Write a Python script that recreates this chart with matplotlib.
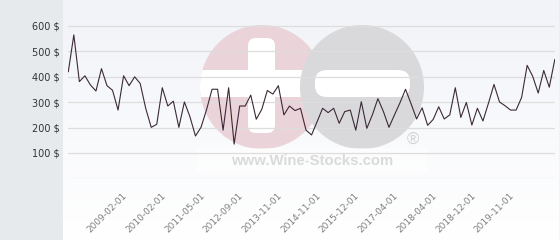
import numpy as np
import matplotlib
matplotlib.use("Agg")
import matplotlib.pyplot as plt
from matplotlib.patches import Circle, Rectangle, FancyBboxPatch
from matplotlib.transforms import ScaledTranslation

# ---- data ----
prices = [420, 565, 381, 404, 368, 344, 432, 365, 347, 269,
          404, 365, 400, 374, 276, 201, 213, 357, 285, 304,
          201, 301, 243, 167, 201, 270, 351, 351, 190, 357,
          135, 285, 285, 328, 233, 272, 346, 332, 365, 250,
          285, 267, 276, 190, 171, 223, 276, 259, 276, 217,
          263, 269, 190, 302, 197, 250, 314, 263, 201, 250,
          298, 351, 294, 234, 278, 209, 232, 282, 234, 250,
          357, 240, 299, 210, 276, 226, 296, 370, 301, 286,
          269, 269, 319, 445, 402, 336, 425, 359, 468]
tick_labels = ["2009-02-01", "2010-02-01", "2011-05-01", "2012-09-01",
               "2013-11-01", "2014-11-01", "2015-12-01", "2017-04-01",
               "2018-04-01", "2018-12-01", "2019-11-01"]
tick_index = [10 + 7 * k for k in range(len(tick_labels))]
y_ticks = [100, 200, 300, 400, 500, 600]

W, H = 560, 240
fig = plt.figure(figsize=(W / 100, H / 100), dpi=100)

# ---- background + watermark layer (pixel coords) ----
bg = fig.add_axes([0, 0, 1, 1], zorder=0)
bg.set_xlim(0, W)
bg.set_ylim(H, 0)
bg.axis("off")
bg.add_patch(Rectangle((0, 0), 63, H, color="#e6eaed", lw=0))
grad = np.linspace(0, 1, 256)[:, None]
top = np.array([0.945, 0.953, 0.972])
bot = np.array([1.0, 1.0, 1.0])
img = top[None, None, :] * (1 - grad[:, :, None]) + bot[None, None, :] * grad[:, :, None]
bg.imshow(img, extent=[63, W, H, 0], aspect="auto", zorder=0)
bg.plot([559.5, 559.5], [0, H], color="#d8d8d8", lw=1, zorder=1)

pink = Circle((262, 87), 62, color="#ebd4d9", lw=0, zorder=2)
bg.add_patch(pink)
band = Rectangle((195, 70), 115, 27, color="white", lw=0, zorder=3)
bg.add_patch(band)
band.set_clip_path(pink)
vbar = FancyBboxPatch((248, 38), 27, 95, boxstyle="round,pad=0,rounding_size=8",
                      color="white", lw=0, zorder=3)
bg.add_patch(vbar)
vbar.set_clip_path(pink)
bg.add_patch(Circle((362, 87), 62, color="#d9d9db", lw=0, zorder=4))
bg.add_patch(FancyBboxPatch((315, 70), 95, 27, boxstyle="round,pad=0,rounding_size=12",
                            color="white", lw=0, zorder=5))
bg.add_patch(Rectangle((197, 148), 230, 25, color="white", alpha=0.55, lw=0, zorder=5))
bg.text(312, 161, "www.Wine-Stocks.com", ha="center", va="center",
        fontsize=10.7, fontweight="bold", family="Liberation Sans",
        color="#dadada", zorder=6)
bg.text(413, 140, "\u00ae", ha="center", va="center", fontsize=12,
        family="Liberation Sans", color="#d0d0d0", zorder=6)

# ---- main chart ----
ymax = 625
ax = fig.add_axes([68.3 / W, (H - 178.4) / H, 486.5 / W, ymax * 0.254 / H], zorder=1)
ax.set_facecolor("none")
x = np.arange(len(prices))
ax.plot(x, prices, color="#3b2a36", lw=0.8, zorder=3)
ax.set_xlim(0, len(prices) - 1)
ax.set_ylim(0, ymax)
for v in [0] + y_ticks:
    ax.axhline(v, color="#dddddd", lw=0.9, zorder=1)
for s in ax.spines.values():
    s.set_visible(False)

ax.set_yticks(y_ticks)
ax.set_yticklabels([f"{v} $" for v in y_ticks], fontsize=7, color="#333333")
ax.tick_params(axis="y", length=0, pad=6.5)

ax.set_xticks(tick_index)
ax.set_xticklabels(tick_labels, rotation=45, ha="right", va="top",
                   rotation_mode="anchor", fontsize=6.5, color="#808080")
ax.tick_params(axis="x", length=0, pad=0)
off = ScaledTranslation(-1.0 / 100, -13 / 100, fig.dpi_scale_trans)
for lab in ax.get_xticklabels():
    lab.set_transform(lab.get_transform() + off)

fig.savefig("out.png", dpi=100)
